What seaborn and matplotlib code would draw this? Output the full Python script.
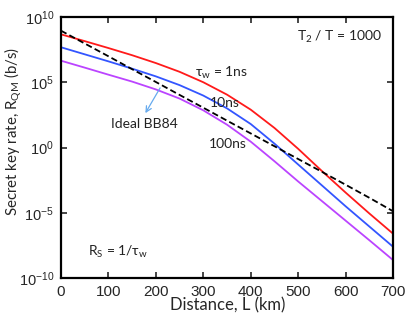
import matplotlib
matplotlib.use("Agg")
import matplotlib.pyplot as plt
import numpy as np
import pandas as pd
import seaborn as sns

# distance (km) and log10 of secret key rate (b/s)
distance = [0, 50, 100, 150, 200, 250, 300, 350, 400, 450, 500, 550, 600, 650, 700]
log_rate_1ns = [8.67, 8.15, 7.62, 7.07, 6.47, 5.8, 5.0, 4.05, 2.9, 1.5, -0.1, -1.8, -3.45, -5.05, -6.6]
log_rate_10ns = [7.68, 7.14, 6.6, 6.04, 5.45, 4.78, 3.98, 3.0, 1.8, 0.3, -1.3, -2.9, -4.5, -6.05, -7.6]
log_rate_100ns = [6.65, 6.12, 5.58, 5.05, 4.45, 3.75, 2.85, 1.75, 0.45, -1.05, -2.6, -4.1, -5.6, -7.1, -8.62]
log_rate_bb84 = [8.95, 7.97, 6.99, 6.0, 5.02, 4.03, 3.05, 2.06, 1.08, 0.1, -0.88, -1.86, -2.85, -3.85, -4.88]

series = {"1ns": log_rate_1ns, "10ns": log_rate_10ns, "100ns": log_rate_100ns}
colors = {"1ns": "#ff1a1a", "10ns": "#3355ff", "100ns": "#bb44ff"}

rows = []
for name, vals in series.items():
    for d, v in zip(distance, vals):
        rows.append({"L": d, "rate": 10.0 ** v, "tau": name})
df = pd.DataFrame(rows)
bb84 = pd.DataFrame({"L": distance, "rate": [10.0 ** v for v in log_rate_bb84]})

sns.set_style("ticks")
plt.rcParams["font.family"] = ["Liberation Sans", "DejaVu Sans"]
plt.rcParams["mathtext.fontset"] = "custom"
plt.rcParams["mathtext.rm"] = "Liberation Sans"
plt.rcParams["mathtext.it"] = "Liberation Sans"
label_font = ["Lato", "DejaVu Sans"]

fig, ax = plt.subplots(figsize=(4.09, 3.20), dpi=100)
fig.subplots_adjust(left=0.149, right=0.961, top=0.947, bottom=0.131)

sns.lineplot(data=df, x="L", y="rate", hue="tau", palette=colors, ax=ax,
             linewidth=1.3, legend=False)
sns.lineplot(data=bb84, x="L", y="rate", ax=ax, color="black",
             linewidth=1.3, linestyle=(0, (3.5, 1.8)))

ax.set_yscale("log")
ax.set_xlim(0, 700)
ax.set_ylim(1e-10, 1e10)
ax.set_xticks(range(0, 701, 100))
ax.set_yticks([1e-10, 1e-5, 1e0, 1e5, 1e10])
ax.yaxis.set_minor_locator(matplotlib.ticker.NullLocator())
ax.tick_params(direction="in", top=True, right=True, length=4, width=1.2, pad=5)
ax.tick_params(axis="x", labelsize=11)
ax.tick_params(axis="y", labelsize=10.5)
for s in ax.spines.values():
    s.set_linewidth(1.6)
    s.set_color("black")

ax.set_xlabel("Distance, L (km)", family=label_font, fontsize=12)
ax.set_ylabel("Secret key rate, R$_{\\mathregular{QM}}$ (b/s)", family=label_font,
              fontsize=10.8)
ax.xaxis.set_label_coords(0.501, -0.075)
ax.yaxis.set_label_coords(-0.112, 0.563)

txt = dict(family=label_font, fontsize=10, color="#222222")
ax.text(498, 10 ** 8.5, "T$_{\\mathregular{2}}$ / T = 1000", va="center", **txt)
ax.text(283, 10 ** 5.7, "\u03c4$_{\\mathregular{w}}$ = 1ns", va="center", **txt)
ax.text(314, 10 ** 3.4, "10ns", va="center", **txt)
ax.text(312, 10 ** 0.25, "100ns", va="center", **txt)
ax.text(106, 10 ** 1.8, "Ideal BB84", va="center", **txt)
ax.text(57, 10 ** -8.0, "R$_{\\mathregular{S}}$ = 1/\u03c4$_{\\mathregular{w}}$", va="center", **txt)
ax.annotate("", xy=(175, 10 ** 2.45), xytext=(212, 10 ** 4.75),
            arrowprops=dict(arrowstyle="->", color="#66aaee", lw=0.9))

fig.savefig("out.png", dpi=100)
